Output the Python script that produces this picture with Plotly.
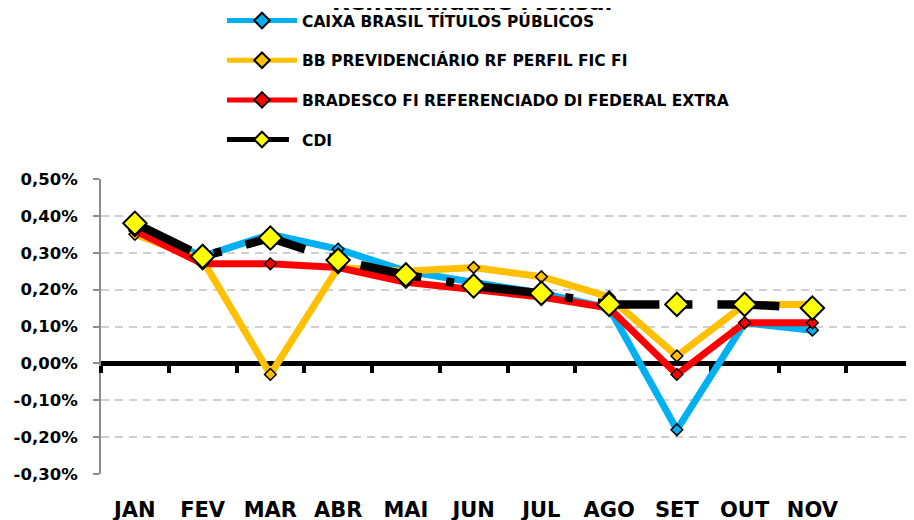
import plotly.graph_objects as go

months = ["JAN", "FEV", "MAR", "ABR", "MAI", "JUN", "JUL", "AGO", "SET", "OUT", "NOV"]
caixa = [0.37, 0.29, 0.35, 0.31, 0.25, 0.22, 0.19, 0.15, -0.18, 0.11, 0.09]
bb = [0.35, 0.28, -0.03, 0.26, 0.25, 0.26, 0.235, 0.18, 0.02, 0.16, 0.16]
bradesco = [0.36, 0.27, 0.27, 0.26, 0.22, 0.20, 0.18, 0.15, -0.03, 0.11, 0.11]
cdi = [0.38, 0.29, 0.34, 0.28, 0.24, 0.21, 0.19, 0.16, 0.16, 0.16, 0.15]

names = ["CAIXA BRASIL TÍTULOS PÚBLICOS", "BB PREVIDENCIÁRIO RF PERFIL FIC FI",
         "BRADESCO FI REFERENCIADO DI FEDERAL EXTRA", "CDI"]
y_ticks = [-0.3, -0.2, -0.1, 0.0, 0.1, 0.2, 0.3, 0.4, 0.5]
y_ticktext = [f"{v:.2f}%".replace(".", ",") for v in y_ticks]

FONT = "DejaVu Sans"
fig = go.Figure()

def fund(vals, name, color, grp):
    fig.add_trace(go.Scatter(
        x=months, y=vals, name=name, mode="lines+markers", legendgroup=grp,
        line=dict(color=color, width=7),
        marker=dict(symbol="diamond", size=9, color=color, line=dict(color="black", width=1.5)),
    ))

fund(caixa, names[0], "#00B0F0", "a")
fund(bb, names[1], "#FFC000", "b")
fund(bradesco, names[2], "#FF0000", "c")
fig.add_trace(go.Scatter(
    x=months, y=cdi, name=names[3], mode="lines+markers", legendgroup="d",
    line=dict(color="black", width=8.5, dash="62px,25px,8px,25px"),
    marker=dict(symbol="diamond", size=18, color="#FFFF00", line=dict(color="black", width=2)),
))
# helper trace for the label axis
fig.add_trace(go.Scatter(x=months, y=[None] * len(months), xaxis="x2", showlegend=False,
                         hoverinfo="skip", mode="lines"))

ymin, ymax = -0.3, 0.5
T = 171
fig.update_layout(
    width=914, height=520,
    margin=dict(l=93, r=8, t=T, b=54, autoexpand=False),
    plot_bgcolor="white", paper_bgcolor="white",
    showlegend=True,
    legend=dict(
        xref="container", yref="paper", x=214 / 914, y=1 + (T + 4) / 295,
        xanchor="left", yanchor="top",
        font=dict(family=FONT, size=15.5, color="black", weight="bold"),
        itemwidth=70, itemsizing="constant", tracegroupgap=16.5,
        bgcolor="rgba(0,0,0,0)",
    ),
    xaxis=dict(
        type="category", categoryarray=months, range=[-0.5, 11.5],
        anchor="free", position=(0 - ymin) / (ymax - ymin),
        showline=True, linecolor="black", linewidth=5,
        ticks="outside", ticklen=7, tickwidth=4, tickcolor="black", tickson="boundaries",
        showticklabels=False, showgrid=False, zeroline=False, layer="below traces",
    ),
    xaxis2=dict(
        type="category", categoryarray=months, range=[-0.5, 11.5],
        overlaying="x", anchor="y", side="bottom",
        showline=False, ticks="", showgrid=False, zeroline=False,
        tickfont=dict(family=FONT, size=21, color="black", weight="bold"),
        ticklabelstandoff=21, tickangle=0,
    ),
    yaxis=dict(
        range=[ymin, ymax], tickvals=y_ticks, ticktext=y_ticktext,
        showline=True, linecolor="#8c8c8c", linewidth=2,
        ticks="outside", ticklen=6, tickwidth=1.5, tickcolor="#8c8c8c",
        showgrid=True, gridcolor="#d0d0d0", gridwidth=1.5, griddash="8px,6px",
        zeroline=False, layer="below traces",
        tickfont=dict(family=FONT, size=16.5, color="black", weight="bold"),
        ticklabelstandoff=12,
    ),
    annotations=[dict(
        text="Rentabilidade Mensal", xref="paper", yref="paper",
        x=(464 - 93) / 813, y=1 + (T - 9) / 295, xanchor="center", yanchor="bottom",
        showarrow=False, font=dict(family=FONT, size=23, color="black", weight="bold"),
    )],
)

fig.write_html("out.html")
